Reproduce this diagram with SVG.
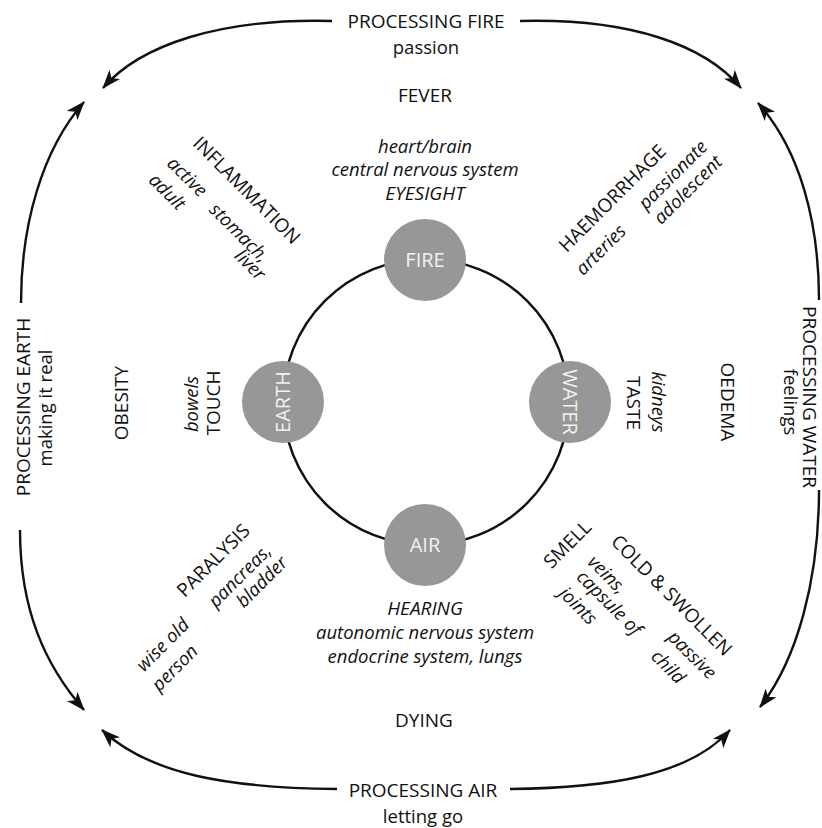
<svg xmlns="http://www.w3.org/2000/svg" width="822" height="828" viewBox="0 0 822 828">
<style>
  text { font-family: "Open Sans", "Noto Sans", "DejaVu Sans", sans-serif; fill: #111; text-anchor: middle; font-size: 18.5px; font-weight: 500; }
  .c { font-size: 19px; }
  .it { font-style: italic; }
  .node circle { fill: #979797; }
  .node text { fill: #f2f2f2; font-size: 20px; }
  .arc { fill: none; stroke: #111; stroke-width: 2.4; marker-end: url(#ah); }
  .ring { fill: none; stroke: #111; stroke-width: 2.5; }
</style>
<defs>
  <marker id="ah" markerWidth="20" markerHeight="14" refX="18" refY="7" orient="auto" markerUnits="userSpaceOnUse">
    <path d="M0,0 L19,7 L0,14 L5,7 z" fill="#111"/>
  </marker>
</defs>
<rect width="822" height="828" fill="#ffffff"/>

<g id="connectors">
  <circle class="ring" cx="426" cy="402" r="143"/>
  <path class="arc" d="M332,21 C220,18 140,45 103,88"/>
  <path class="arc" d="M520,21 C630,18 705,45 741,88"/>
  <path class="arc" d="M21,303 C21,225 42,150 84,102"/>
  <path class="arc" d="M20,530 C20,610 45,665 84,710"/>
  <path class="arc" d="M819,300 C819,222 800,150 758,103"/>
  <path class="arc" d="M819,490 C819,580 797,660 760,707"/>
  <path class="arc" d="M337,789 C230,788 150,775 102,730"/>
  <path class="arc" d="M510,789 C610,788 690,775 730,730"/>
</g>

<g id="fire" class="node">
  <circle cx="425" cy="260" r="41"/>
  <text x="425" y="267">FIRE</text>
</g>
<g id="earth" class="node">
  <circle cx="283" cy="402" r="41"/>
  <text x="283" y="409" transform="rotate(-90 283 402)">EARTH</text>
</g>
<g id="water" class="node">
  <circle cx="570" cy="402" r="41"/>
  <text x="570" y="409" transform="rotate(90 570 402)">WATER</text>
</g>
<g id="air" class="node">
  <circle cx="425" cy="545" r="41"/>
  <text x="425" y="552">AIR</text>
</g>

<g id="processing-fire">
  <text class="c" x="426" y="28">PROCESSING FIRE</text>
  <text x="426" y="54">passion</text>
</g>
<g id="processing-air">
  <text class="c" x="423" y="797">PROCESSING AIR</text>
  <text x="423" y="823">letting go</text>
</g>
<g id="processing-earth">
  <text class="c" x="23" y="414" transform="rotate(-90 23 407)">PROCESSING EARTH</text>
  <text x="46" y="414" transform="rotate(-90 46 408)">making it real</text>
</g>
<g id="processing-water">
  <text class="c" x="810" y="404" transform="rotate(90 810 397)">PROCESSING WATER</text>
  <text x="790" y="408" transform="rotate(90 790 402)">feelings</text>
</g>

<g id="fire-labels">
  <text class="c" x="425" y="102">FEVER</text>
  <text class="it" x="425" y="153">heart/brain</text>
  <text class="it" x="425" y="176">central nervous system</text>
  <text class="it c" x="425" y="200">EYESIGHT</text>
</g>
<g id="air-labels">
  <text class="it c" x="425" y="615">HEARING</text>
  <text class="it" x="425" y="639">autonomic nervous system</text>
  <text class="it" x="425" y="663">endocrine system, lungs</text>
  <text class="c" x="424" y="727">DYING</text>
</g>
<g id="earth-labels">
  <text class="c" x="121" y="410" transform="rotate(-90 121 403)">OBESITY</text>
  <text class="it" x="192" y="410" transform="rotate(-90 192 404)">bowels</text>
  <text class="c" x="213" y="410" transform="rotate(-90 213 403)">TOUCH</text>
</g>
<g id="water-labels">
  <text class="c" x="728" y="409" transform="rotate(90 728 402)">OEDEMA</text>
  <text class="it" x="658" y="408" transform="rotate(90 658 402)">kidneys</text>
  <text class="c" x="634" y="410" transform="rotate(90 634 403)">TASTE</text>
</g>
<g id="fire-earth-labels">
  <text class="c" x="247" y="197" transform="rotate(45 247 190)">INFLAMMATION</text>
  <text class="it" x="187" y="183" transform="rotate(45 187 177)">active</text>
  <text class="it" x="167" y="198" transform="rotate(45 167 192)">adult</text>
  <text class="it" x="239" y="239" transform="rotate(45 239 233)">stomach,</text>
  <text class="it" x="250" y="271" transform="rotate(45 250 265)">liver</text>
</g>
<g id="fire-water-labels">
  <text class="c" x="612" y="205" transform="rotate(-45 612 198)">HAEMORRHAGE</text>
  <text class="it" x="601" y="256" transform="rotate(-45 601 250)">arteries</text>
  <text class="it" x="673" y="181" transform="rotate(-45 673 175)">passionate</text>
  <text class="it" x="688" y="196" transform="rotate(-45 688 190)">adolescent</text>
</g>
<g id="earth-air-labels">
  <text class="c" x="213" y="567" transform="rotate(-45 213 560)">PARALYSIS</text>
  <text class="it" x="240" y="582" transform="rotate(-45 240 576)">pancreas,</text>
  <text class="it" x="262" y="588" transform="rotate(-45 262 582)">bladder</text>
  <text class="it" x="163" y="651" transform="rotate(-45 163 645)">wise old</text>
  <text class="it" x="175" y="674" transform="rotate(-45 175 668)">person</text>
</g>
<g id="water-air-labels">
  <text class="c" x="567" y="551" transform="rotate(-45 567 544)">SMELL</text>
  <text class="c" x="672" y="602" transform="rotate(45 672 595)">COLD &amp; SWOLLEN</text>
  <text class="it" x="607" y="581" transform="rotate(45 607 575)">veins,</text>
  <text class="it" x="609" y="609" transform="rotate(45 609 603)">capsule of</text>
  <text class="it" x="578" y="612" transform="rotate(45 578 606)">joints</text>
  <text class="it" x="692" y="661" transform="rotate(45 692 655)">passive</text>
  <text class="it" x="668" y="673" transform="rotate(45 668 667)">child</text>
</g>
</svg>
